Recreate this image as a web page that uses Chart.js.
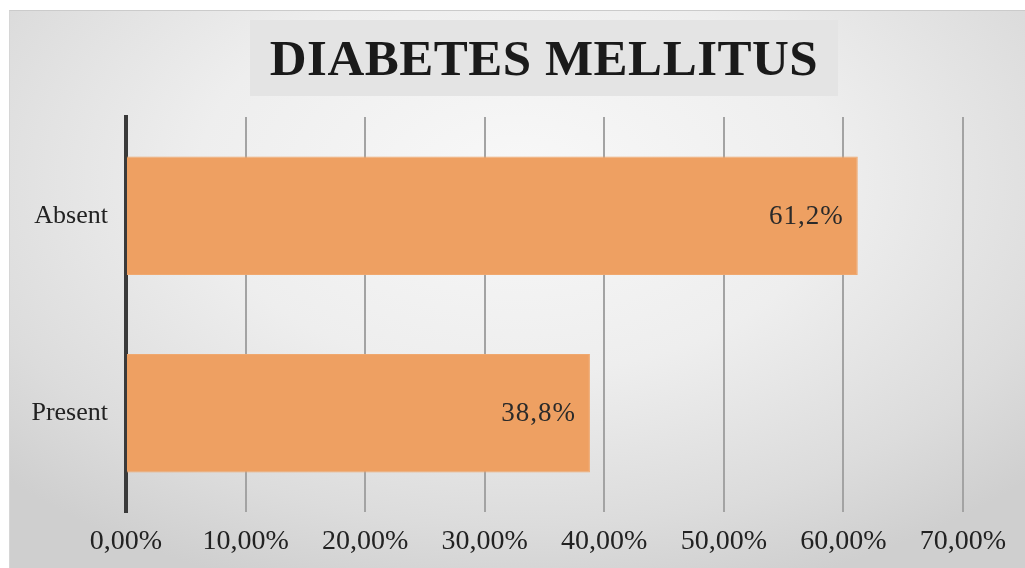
<!DOCTYPE html>
<html>
<head>
<meta charset="utf-8">
<script src="https://cdn.jsdelivr.net/npm/chart.js@4/dist/chart.umd.min.js"></script>
<style>
  html, body { margin: 0; padding: 0; background: #ffffff; }
  #wrap { position: relative; width: 1025px; height: 568px; overflow: hidden; }
  #panel {
    position: absolute; left: 9px; top: 10px; right: 0; bottom: 0;
    background: radial-gradient(ellipse 70% 78% at 50% 30%, #f8f8f8 0%, #eeeeee 45%, #dcdcdc 80%, #cfcfcf 100%);
    border-top: 1px solid #cbcbcb; border-left: 1px solid #d6d6d6;
  }
  #chart { position: absolute; left: 0; top: 0; }
  #titleBox {
    position: absolute; left: 250px; top: 20px; width: 588px; height: 76px;
    background: #e4e4e4;
    display: flex; justify-content: center; align-items: flex-start;
  }
  #titleText {
    flex: none; margin-top: 2px; margin-left: 0px;
    font-family: "Liberation Serif", "Times New Roman", serif; font-weight: bold;
    font-size: 51px; line-height: 72px; color: #1a1a1a; white-space: nowrap;
    letter-spacing: 0.5px;
  }
</style>
</head>
<body>
<div id="wrap">
  <div id="panel"></div>
  <canvas id="chart" width="1025" height="568"></canvas>
  <div id="titleBox"><span id="titleText">DIABETES MELLITUS</span></div>
</div>
<script>
// Categories and shares (percent)
const categories = ['Absent', 'Present'];
const shares = [61.2, 38.8];
// Value axis range and step
const axisMin = 0;
const axisMax = 70;
const axisStep = 10;

const SERIF = '"Liberation Serif", "Times New Roman", serif';

const pct = (v, d) => v.toFixed(d).replace('.', ',') + '%';

// Value labels inside the end of each bar
const barValues = {
  id: 'barValues',
  afterDatasetsDraw(chart) {
    const ctx = chart.ctx;
    const meta = chart.getDatasetMeta(0);
    ctx.save();
    ctx.fillStyle = '#2a2a2a';
    ctx.font = '27px ' + SERIF;
    ctx.textAlign = 'right';
    ctx.textBaseline = 'middle';
    if ('letterSpacing' in ctx) ctx.letterSpacing = '1px';
    meta.data.forEach((bar, i) => {
      ctx.fillText(pct(shares[i], 1), bar.x - 14, bar.y + 1);
    });
    ctx.restore();
  }
};

new Chart(document.getElementById('chart'), {
  type: 'bar',
  data: {
    labels: categories,
    datasets: [{
      data: shares,
      backgroundColor: '#eea062',
      borderColor: '#f0a86e',
      borderWidth: 1,
      categoryPercentage: 1.0,
      barPercentage: 0.6
    }]
  },
  options: {
    indexAxis: 'y',
    responsive: false,
    animation: false,
    layout: { padding: { top: 117, right: 62, left: 0, bottom: 0 } },
    plugins: { legend: { display: false }, title: { display: false }, tooltip: { enabled: false } },
    scales: {
      x: {
        min: axisMin,
        max: axisMax,
        ticks: {
          stepSize: axisStep,
          color: '#222222',
          font: { family: SERIF, size: 28 },
          padding: 13,
          maxRotation: 0,
          autoSkip: false,
          callback: v => pct(v, 2)
        },
        grid: {
          color: ctx => ctx.index === 0 ? 'rgba(0,0,0,0)' : '#a3a3a3',
          lineWidth: 2,
          drawTicks: false
        },
        border: { display: false },
        afterFit: s => { s.height = 56; }
      },
      y: {
        ticks: {
          color: '#222222',
          font: { family: SERIF, size: 26 },
          padding: 18
        },
        grid: { display: false, drawTicks: false },
        border: { display: true, color: '#3a3a3a', width: 4 },
        afterFit: s => { s.width = 126; }
      }
    }
  },
  plugins: [barValues]
});
</script>
</body>
</html>
